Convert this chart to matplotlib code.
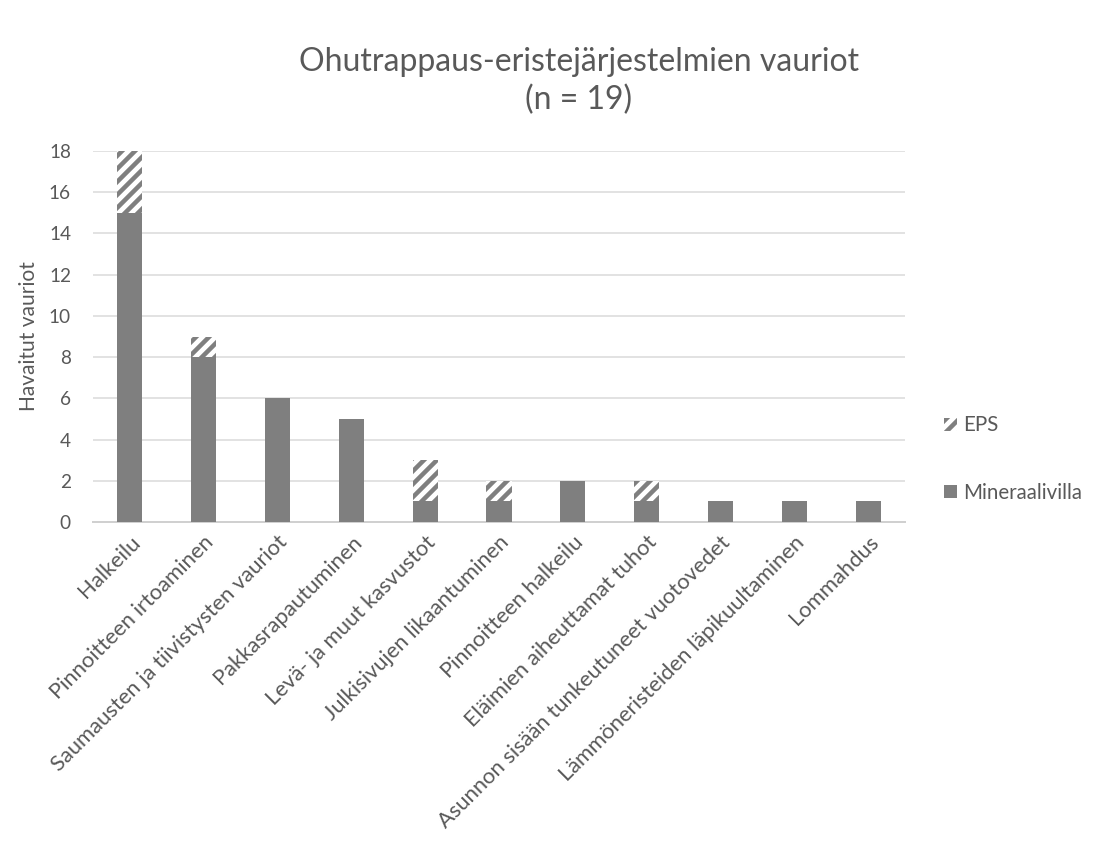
import matplotlib.pyplot as plt
from matplotlib.patches import Patch

# Vauriotyypit ja havaintomäärät eristetyypeittäin
kategoriat = [
    "Halkeilu",
    "Pinnoitteen irtoaminen",
    "Saumausten ja tiivistysten vauriot",
    "Pakkasrapautuminen",
    "Levä- ja muut kasvustot",
    "Julkisivujen likaantuminen",
    "Pinnoitteen halkeilu",
    "Eläimien aiheuttamat tuhot",
    "Asunnon sisään tunkeutuneet vuotovedet",
    "Lämmöneristeiden läpikuultaminen",
    "Lommahdus",
]
mineraalivilla = [15, 8, 6, 5, 1, 1, 2, 1, 1, 1, 1]
eps = [3, 1, 0, 0, 2, 1, 0, 1, 0, 0, 0]

DPI = 78          # pienempi dpi tihentää viivoitusta
W, H = 1104, 851


def px(n):
    """Pikselikoko pisteiksi valitulla dpi:llä."""
    return n * 72 / DPI


harmaa = "#7f7f7f"
teksti = "#595959"

plt.rcParams["font.family"] = ["Lato", "DejaVu Sans"]
plt.rcParams["hatch.linewidth"] = px(4.5)
plt.rcParams["hatch.color"] = harmaa

fig = plt.figure(figsize=(W / DPI, H / DPI), dpi=DPI)
ax = fig.add_axes([93 / W, 1 - 522 / H, 812 / W, 371 / H])

x = range(len(kategoriat))
ax.bar(x, mineraalivilla, width=0.34, color=harmaa, linewidth=0, zorder=3)
ax.bar(x, eps, width=0.34, bottom=mineraalivilla, color="white",
       edgecolor=harmaa, hatch="//", linewidth=0, zorder=3)

ax.set_xlim(-0.5, len(kategoriat) - 0.5)
ax.set_ylim(0, 18)
ax.set_yticks(range(0, 19, 2))
ax.yaxis.grid(True, color="#d9d9d9", linewidth=px(1.5), zorder=0)
ax.set_axisbelow(True)

for side in ["top", "right", "left"]:
    ax.spines[side].set_visible(False)
ax.spines["bottom"].set_color("#d0d0d0")
ax.spines["bottom"].set_linewidth(px(2))

ax.tick_params(axis="both", length=0, colors=teksti)
ax.tick_params(axis="y", pad=px(22), labelsize=px(19))
ax.set_xticks(list(x))
ax.set_xticklabels(kategoriat, rotation=45, ha="right", rotation_mode="anchor")
ax.tick_params(axis="x", pad=px(10), labelsize=px(22))

ax.set_ylabel("Havaitut vauriot", fontsize=px(21), color=teksti, labelpad=px(10))

fig.text(579 / W, 1 - 62 / H, "Ohutrappaus-eristejärjestelmien vauriot",
         ha="center", va="center", fontsize=px(32), color=teksti)
fig.text(579 / W, 1 - 100 / H, "(n = 19)",
         ha="center", va="center", fontsize=px(32), color=teksti)

kahvat = [
    Patch(facecolor="white", edgecolor=harmaa, hatch="//", linewidth=0, label="EPS"),
    Patch(facecolor=harmaa, linewidth=0, label="Mineraalivilla"),
]
fig.legend(handles=kahvat, loc="center left", bbox_to_anchor=(926 / W, 1 - 459 / H),
           frameon=False, fontsize=px(20.5), labelcolor=teksti, handlelength=0.6,
           handleheight=0.6, handletextpad=0.3, labelspacing=2.3)

fig.savefig("out.png", dpi=DPI, facecolor="white")
